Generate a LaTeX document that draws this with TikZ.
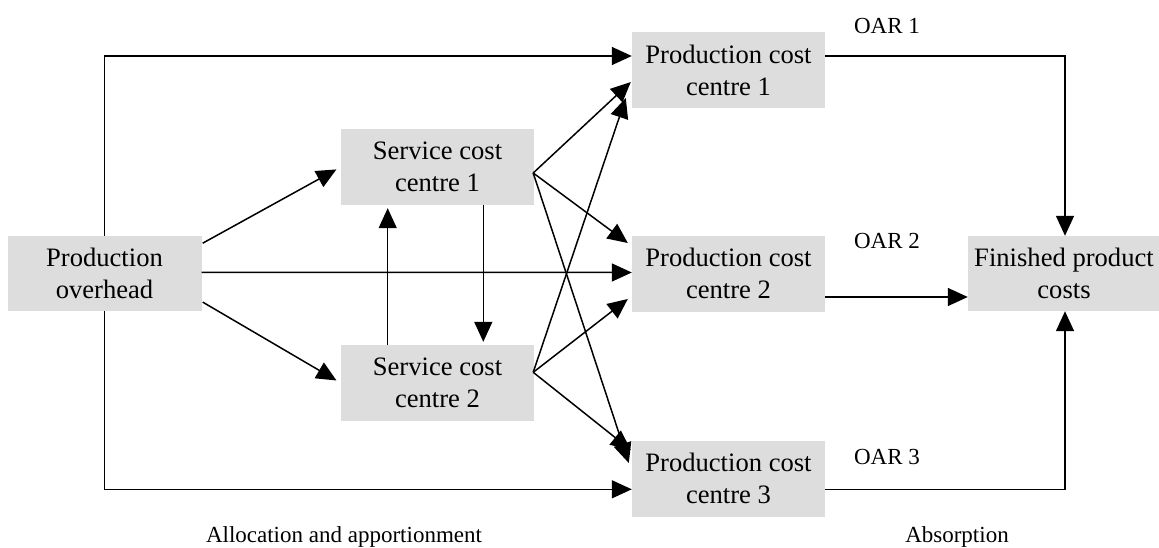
\documentclass[tikz,border=0pt]{standalone}
\usepackage{fontspec}
\setmainfont{Liberation Serif}
\usetikzlibrary{arrows.meta,calc}
\definecolor{boxgray}{RGB}{221,221,221}
\begin{document}
\begin{tikzpicture}[x=1pt,y=-1pt,
  box/.style={fill=boxgray, inner sep=0pt, minimum width=193pt, minimum height=76pt,
    align=center, font=\fontsize{26.6}{32}\selectfont},
  lbl/.style={inner sep=0pt, font=\fontsize{23}{27}\selectfont},
  conn/.style={line width=1.5pt},
  arr/.style={conn, -{Triangle[length=20pt,width=18pt]}}]
\useasboundingbox (0,0) rectangle (1159,548);

% cost centres
\node[box, minimum width=194pt, minimum height=75pt] (po) at (104.5,273.4) {Production\\overhead};
\node[box] (sc1) at (437.5,167) {Service cost\\centre 1};
\node[box] (sc2) at (437.5,383) {Service cost\\centre 2};
\node[box] (pc1) at (728.5,70.5) {Production cost\\centre 1};
\node[box] (pc2) at (728.5,273.7) {Production cost\\centre 2};
\node[box] (pc3) at (728.5,478.7) {Production cost\\centre 3};
\node[box, minimum width=192pt, minimum height=75pt] (fp) at (1064,273.5) {Finished product\\costs};

% labels
\node[lbl] (oar1) at (887,26) {OAR 1};
\node[lbl] (oar2) at (887,241) {OAR 2};
\node[lbl] (oar3) at (887,457) {OAR 3};
\node[lbl] (alloc) at (344,537) {Allocation and apportionment};
\node[lbl] (absorb) at (957,537) {Absorption};

% routing rows
\coordinate (toprow) at (0,56);
\coordinate (botrow) at (0,489.3);
\coordinate (midrow) at (0,297);
\coordinate (fpx) at (1065,0);

% production overhead to the cost centres
\draw[arr] (po.north) |- (pc1.west |- toprow);
\draw[arr] (po.south) |- (pc3.west |- botrow);
\draw[arr] ($(po.east)+(0,-1)$) -- ($(pc2.west)+(0,-1.2)$);
\draw[arr, shorten >=5pt] ($(po.north east)+(1,7.5)$) -- (sc1.west);
\draw[arr, shorten >=5pt] ($(po.south east)+(1,-9)$) -- (sc2.west);

% reciprocal service transfers
\draw[arr, shorten >=3pt] (sc2.north -| 387.7,0) -- (sc1.south -| 387.7,0);
\draw[arr, shorten >=3pt] (sc1.south -| 483.3,0) -- (sc2.north -| 483.3,0);

% service centres re-apportioned to production centres
\coordinate (s1) at ($(sc1.east)+(-1,6)$);
\coordinate (s2) at ($(sc2.east)+(-1,-10.7)$);
\draw[arr] (s1) -- ($(pc1.west)+(-1,11.5)$);
\draw[arr] (s1) -- ($(pc2.west)+(-4,-30.7)$);
\draw[arr] (s1) -- ($(pc3.west)+(-3,-15.7)$);
\draw[arr] (s2) -- ($(pc1.west)+(-6,27.5)$);
\draw[arr] (s2) -- ($(pc2.west)+(-4,25.3)$);
\draw[arr] (s2) -- ($(pc3.west)+(-1,-28.7)$);

% absorption into finished product costs
\draw[arr] (pc1.east |- toprow) -| (fp.north -| fpx);
\draw[arr] (pc2.east |- midrow) -- (fp.west |- midrow);
\draw[arr] (pc3.east |- botrow) -| (fp.south -| fpx);
\end{tikzpicture}
\end{document}
